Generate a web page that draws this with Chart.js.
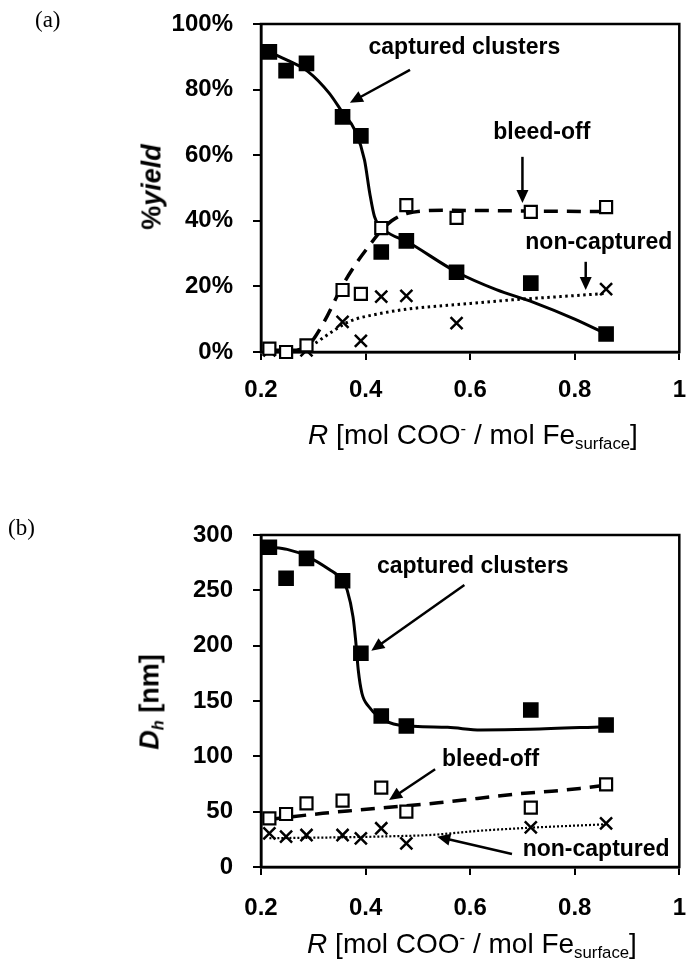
<!DOCTYPE html>
<html>
<head>
<meta charset="utf-8">
<script src="https://cdn.jsdelivr.net/npm/chart.js@4.4.0/dist/chart.umd.min.js"></script>
<style>
  body { margin: 0; background: #fff; width: 691px; height: 972px; position: relative; overflow: hidden; font-family: "Liberation Sans", Arial, sans-serif; color: #000; }
  .box { position: absolute; left: 0; width: 691px; }
  .panel { position: absolute; font-family: "Liberation Serif", "Times New Roman", serif; font-size: 23px; line-height: 1; }
  .ytitle { position: absolute; transform: translate(-50%, -50%) rotate(-90deg); white-space: nowrap; font-weight: bold; font-size: 27px; line-height: 1; }
  .xtitle { position: absolute; transform: translate(-50%, -50%); white-space: nowrap; font-size: 28px; line-height: 1; }
  .xtitle sub, .ytitle sub { font-size: 60%; vertical-align: -0.3em; }
  .xtitle sup { font-size: 60%; vertical-align: 0.6em; }
</style>
</head>
<body>
<div class="box" style="top:0;height:470px"><canvas id="chartA" width="691" height="470"></canvas></div>
<div class="box" style="top:470px;height:502px"><canvas id="chartB" width="691" height="502"></canvas></div>

<div class="panel" style="left:35px;top:8px">(a)</div>
<div class="panel" style="left:8px;top:516px">(b)</div>

<div class="ytitle" style="left:152px;top:187px">%<i>yield</i></div>
<div class="ytitle" style="left:151px;top:702px"><i>D<sub>h</sub></i> [nm]</div>

<div class="xtitle" style="left:473px;top:437px"><i>R</i> [mol COO<sup>-</sup> / mol Fe<sub>surface</sub>]</div>
<div class="xtitle" style="left:472px;top:946px"><i>R</i> [mol COO<sup>-</sup> / mol Fe<sub>surface</sub>]</div>

<script>
// axis ticks
const xTicks = [0.2, 0.4, 0.6, 0.8, 1];
const xTickLabels = ['0.2', '0.4', '0.6', '0.8', '1'];
const yTicksA = [0, 20, 40, 60, 80, 100];
const yTickLabelsA = ['0%', '20%', '40%', '60%', '80%', '100%'];
const yTicksB = [0, 50, 100, 150, 200, 250, 300];
const yTickLabelsB = ['0', '50', '100', '150', '200', '250', '300'];

// R of each sample (mol COO- / mol Fe surface)
const rValues = [0.216, 0.248, 0.287, 0.356, 0.391, 0.43, 0.478, 0.574, 0.716, 0.86];

// (a) yield in %
const capturedYield = [91.5, 85.8, 88.0, 71.7, 65.9, 30.5, 33.9, 24.3, 21.0, 5.5];
const bleedYield    = [1.0, 0.0, 2.0, 18.9, 17.7, 37.8, 44.8, 40.9, 42.7, 44.2];
const nonCapYield   = [0.5, 0.0, 0.5, 9.2, 3.4, 16.9, 17.1, 8.8, null, 19.2];

// (b) hydrodynamic diameter in nm
const capturedDh = [288.9, 260.9, 278.9, 258.7, 193.1, 136.4, 127.4, null, 141.9, 128.3];
const bleedDh    = [44.0, 47.9, 57.5, 59.9, null, 71.7, 50.0, null, 53.6, 74.7];
const nonCapDh   = [30.4, 27.4, 28.9, 28.9, 25.9, 35.0, 21.4, null, 35.9, 39.5];

// trend lines (a)
const capFitRA = [0.216, 0.25, 0.29, 0.33, 0.356, 0.38, 0.398, 0.408, 0.417, 0.436, 0.48, 0.575, 0.65, 0.72, 0.80, 0.86];
const capFitA  = [91.5, 89, 85.5, 79, 73, 67.5, 58.5, 48.4, 41.3, 37.2, 33.6, 24.3, 19, 15.2, 10, 5.5];
const bleedFitRA = [0.216, 0.26, 0.29, 0.32, 0.355, 0.38, 0.405, 0.43, 0.45, 0.48, 0.55, 0.70, 0.86];
const bleedFitA  = [0.5, 0.5, 2, 9, 20, 26.5, 32, 37, 40, 42.3, 43.2, 43, 42.8];
const nonFitRA = [0.216, 0.27, 0.292, 0.336, 0.367, 0.43, 0.492, 0.586, 0.68, 0.774, 0.862];
const nonFitA  = [0, 0.3, 1.6, 6.2, 9.2, 11.8, 13.3, 14.6, 15.9, 16.9, 17.9];

// trend lines (b)
const capFitRB = [0.216, 0.25, 0.287, 0.33, 0.356, 0.365, 0.376, 0.381, 0.386, 0.393, 0.406, 0.425, 0.463, 0.557, 0.62, 0.715, 0.857];
const capFitB  = [289, 287, 281, 269, 259, 250, 226, 205, 178, 157, 145, 136, 128.3, 126.2, 123.8, 124.4, 126.8];
const bleedFitRB = [0.216, 0.318, 0.387, 0.539, 0.614, 0.69, 0.756, 0.81, 0.86];
const bleedFitB  = [43, 48.5, 51.5, 58, 62, 66, 68.5, 71, 74];
const nonFitRB = [0.216, 0.35, 0.45, 0.526, 0.62, 0.715, 0.86];
const nonFitB  = [26, 26.8, 27.8, 29, 32.8, 35.5, 38.6];

// labels with arrows, in data units
const notesA = [
  { text: 'captured clusters', x: 0.589, y: 92.7, from: [0.485, 86], to: [0.370, 76] },
  { text: 'bleed-off', x: 0.737, y: 66.8, from: [0.70, 59.5], to: [0.70, 45.4] },
  { text: 'non-captured', x: 0.846, y: 33.3, from: [0.821, 27.5], to: [0.821, 18.9] }
];
const notesB = [
  { text: 'captured clusters', x: 0.605, y: 271.3, from: [0.589, 254.8], to: [0.411, 195.5] },
  { text: 'bleed-off', x: 0.639, y: 97.3, from: [0.533, 88.3], to: [0.445, 60.5] },
  { text: 'non-captured', x: 0.841, y: 15.4, from: [0.68, 11.7], to: [0.537, 27.4] }
];

const FONT = '"Liberation Sans", Arial, sans-serif';

function pts(xs, ys) {
  return xs.map((x, i) => ({ x: x, y: ys[i] })).filter(p => p.y !== null);
}

function markerSet(data, style, filled, radius) {
  return {
    data: data,
    showLine: false,
    pointStyle: style,
    pointRadius: radius,
    pointBorderWidth: style === 'crossRot' ? 2.5 : 2.2,
    pointBackgroundColor: filled ? '#000' : '#fff',
    pointBorderColor: '#000',
    clip: false,
    order: 0
  };
}

function lineSet(data, dash, width) {
  return {
    data: data,
    showLine: true,
    pointRadius: 0,
    borderColor: '#000',
    borderWidth: width,
    borderDash: dash,
    cubicInterpolationMode: 'monotone',
    order: 1
  };
}

// frame round the plot area plus the arrow labels
function decorations(notes) {
  return {
    id: 'decorations',
    beforeDatasetsDraw(chart) {
      const a = chart.chartArea;
      const ctx = chart.ctx;
      ctx.save();
      ctx.strokeStyle = '#000';
      ctx.lineWidth = 2.5;
      ctx.strokeRect(a.left, a.top, a.right - a.left, a.bottom - a.top);
      ctx.restore();
    },
    afterDatasetsDraw(chart) {
      const xs = chart.scales.x, ys = chart.scales.y;
      const ctx = chart.ctx;
      ctx.save();
      ctx.fillStyle = '#000';
      ctx.strokeStyle = '#000';
      ctx.font = 'bold 23px ' + FONT;
      ctx.textAlign = 'center';
      ctx.textBaseline = 'middle';
      notes.forEach(n => {
        ctx.fillText(n.text, xs.getPixelForValue(n.x), ys.getPixelForValue(n.y));
        const x1 = xs.getPixelForValue(n.from[0]), y1 = ys.getPixelForValue(n.from[1]);
        const x2 = xs.getPixelForValue(n.to[0]), y2 = ys.getPixelForValue(n.to[1]);
        const ang = Math.atan2(y2 - y1, x2 - x1);
        const head = 13, half = 6;
        ctx.lineWidth = 2.5;
        ctx.beginPath();
        ctx.moveTo(x1, y1);
        ctx.lineTo(x2 - Math.cos(ang) * head * 0.8, y2 - Math.sin(ang) * head * 0.8);
        ctx.stroke();
        ctx.beginPath();
        ctx.moveTo(x2, y2);
        ctx.lineTo(x2 - Math.cos(ang) * head - Math.sin(ang) * half, y2 - Math.sin(ang) * head + Math.cos(ang) * half);
        ctx.lineTo(x2 - Math.cos(ang) * head + Math.sin(ang) * half, y2 - Math.sin(ang) * head - Math.cos(ang) * half);
        ctx.closePath();
        ctx.fill();
      });
      ctx.restore();
    }
  };
}

// fixed axis sizes, and no extra room for labels that hang past the plot edges
function fixSize(prop, size) {
  return s => {
    s[prop] = size;
    s.paddingLeft = 0;
    s.paddingRight = 0;
    s.paddingTop = 0;
    s.paddingBottom = 0;
  };
}

function makeChart(id, datasets, yTicks, yLabels, yMax, pad, yAxisW, xAxisH, xPad, notes) {
  const tickFont = { family: FONT, size: 24, weight: 'bold' };
  return new Chart(document.getElementById(id), {
    type: 'scatter',
    data: { datasets: datasets },
    options: {
      responsive: false,
      animation: false,
      devicePixelRatio: 1,
      layout: { padding: pad },
      plugins: { legend: { display: false }, tooltip: { enabled: false } },
      scales: {
        x: {
          type: 'linear',
          min: 0.2,
          max: 1,
          afterBuildTicks: s => { s.ticks = xTicks.map(v => ({ value: v })); },
          afterFit: fixSize('height', xAxisH),
          border: { display: true, color: '#000', width: 2.5 },
          grid: { drawOnChartArea: false, drawTicks: true, tickLength: 8, color: '#000', lineWidth: 2 },
          ticks: {
            color: '#000', font: tickFont, padding: xPad, maxRotation: 0, autoSkip: false,
            callback: (v, i) => xTickLabels[i]
          }
        },
        y: {
          type: 'linear',
          min: 0,
          max: yMax,
          afterBuildTicks: s => { s.ticks = yTicks.map(v => ({ value: v })); },
          afterFit: fixSize('width', yAxisW),
          border: { display: true, color: '#000', width: 2.5 },
          grid: { drawOnChartArea: false, drawTicks: true, tickLength: 8, color: '#000', lineWidth: 2 },
          ticks: {
            color: '#000', font: tickFont, padding: 20, autoSkip: false,
            callback: (v, i) => yLabels[i]
          }
        }
      }
    },
    plugins: [decorations(notes)]
  });
}

makeChart('chartA', [
  markerSet(pts(rValues, capturedYield), 'rect', true, 9.5),
  markerSet(pts(rValues, bleedYield), 'rect', false, 8.5),
  markerSet(pts(rValues, nonCapYield), 'crossRot', false, 8.5),
  lineSet(pts(capFitRA, capFitA), [], 3),
  lineSet(pts(bleedFitRA, bleedFitA), [14, 9], 3.5),
  lineSet(pts(nonFitRA, nonFitA), [2.5, 3.5], 3)
], yTicksA, yTickLabelsA, 100, { left: 0, right: 5, top: 24, bottom: 0 }, 261, 118, 16, notesA);

makeChart('chartB', [
  markerSet(pts(rValues, capturedDh), 'rect', true, 9.5),
  markerSet(pts(rValues, bleedDh), 'rect', false, 8.5),
  markerSet(pts(rValues, nonCapDh), 'crossRot', false, 8.5),
  lineSet(pts(capFitRB, capFitB), [], 3),
  lineSet(pts(bleedFitRB, bleedFitB), [14, 9], 3.5),
  lineSet(pts(nonFitRB, nonFitB), [2, 2], 2.2)
], yTicksB, yTickLabelsB, 300, { left: 0, right: 7, top: 65, bottom: 0 }, 261, 105, 19, notesB);
</script>
</body>
</html>
